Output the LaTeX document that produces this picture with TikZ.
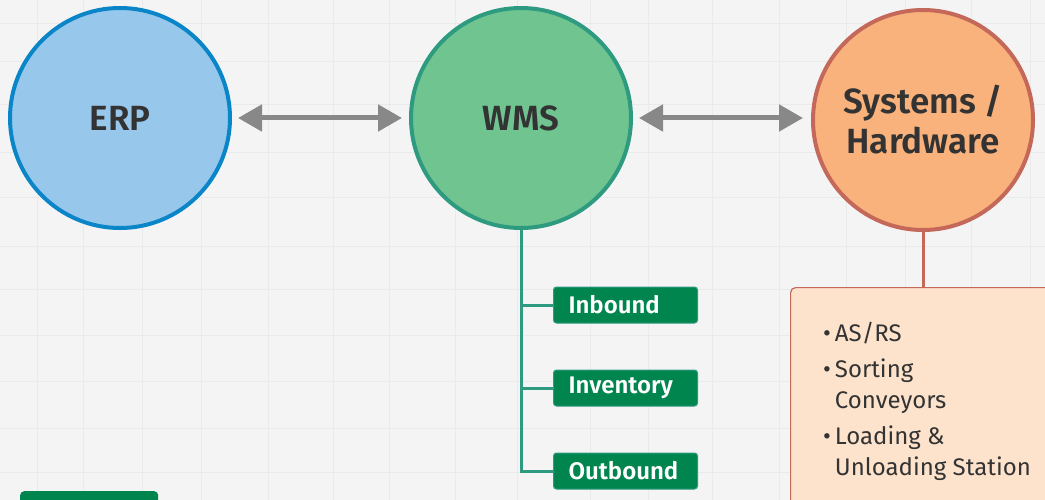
\documentclass[tikz,border=0pt]{standalone}
\usepackage{fontspec}
\setmainfont{Fira Sans}[BoldFont={Fira Sans SemiBold}]
\usetikzlibrary{arrows.meta}
\definecolor{bgc}{HTML}{F4F4F4}
\definecolor{gridc}{HTML}{EAEAEA}
\definecolor{erpfill}{HTML}{97C8EC}
\definecolor{erpline}{HTML}{0A86C8}
\definecolor{wmsfill}{HTML}{6FC490}
\definecolor{wmsline}{HTML}{2E9A80}
\definecolor{sysfill}{HTML}{F9B27C}
\definecolor{sysline}{HTML}{C4695A}
\definecolor{arrowc}{HTML}{888888}
\definecolor{tagfill}{HTML}{00854F}
\definecolor{tagline}{HTML}{2E9A80}
\definecolor{hwfill}{HTML}{FDE3CC}
\definecolor{txt}{HTML}{333333}
\tikzset{
  bigcircle/.style={circle, minimum size=220pt, line width=4pt, inner sep=0pt,
    font=\fontsize{35}{41}\selectfont\bfseries, text=txt, align=center},
  link/.style={line width=5pt, arrowc, {Triangle[length=24pt,width=26pt]}-{Triangle[length=24pt,width=26pt]}},
  tag/.style={rectangle, rounded corners=3pt, fill=tagfill, draw=tagline, line width=1pt,
    minimum width=144pt, minimum height=36pt, anchor=west, text=white,
    font=\fontsize{24}{27}\selectfont\bfseries, align=left, text width=114pt, inner xsep=15pt},
  branch/.style={line width=3pt, wmsline},
  hwline/.style={line width=3pt, sysline},
}
\begin{document}
\begin{tikzpicture}[x=1pt,y=-1pt]
\fill[bgc] (0,0) rectangle (1045,500);
\useasboundingbox (0,0) rectangle (1045,500);
\foreach \x in {37,83,142,201,268,333,389,455,517,590,648,712,779,846,905,971,1030}
  \draw[gridc, line width=0.6pt] (\x,0) -- (\x,500);
\foreach \y in {23,61,104,152,197,246,289,335,381,428,472}
  \draw[gridc, line width=0.6pt] (0,\y) -- (1045,\y);

\node[bigcircle, fill=erpfill, draw=erpline] (erp) at (120,118) {ERP};
\node[bigcircle, fill=wmsfill, draw=wmsline] (wms) at (521,118) {WMS};
\node[bigcircle, fill=sysfill, draw=sysline] (sys) at (923,120) {Systems /\\[-1pt]Hardware};

\coordinate (a1) at (238,118);
\coordinate (a2) at (402,118);
\coordinate (b1) at (639,118);
\coordinate (b2) at (803,118);
\draw[link] (a1) -- (a2);
\draw[link] (b1) -- (b2);

\node[tag] (inb) at (553,305) {Inbound};
\node[tag] (inv) at (553,388) {Inventory};
\node[tag] (outb) at (553,471) {Outbound};
\draw[branch] (wms.south) -- (wms.south |- outb.west) -- (outb.west);
\draw[branch] (wms.south |- inb.west) -- (inb.west);
\draw[branch] (wms.south |- inv.west) -- (inv.west);

\node[rectangle, rounded corners=5pt, fill=hwfill, draw=sysline, line width=1.2pt,
  anchor=north west, minimum width=270pt, minimum height=222pt] (hw) at (790,287) {};
\draw[hwline] (sys.south) -- (sys.south |- hw.north);
\node[anchor=north west, text=txt, font=\fontsize{24}{31}\selectfont, align=left, inner sep=0pt] (hwtext) at (823,322)
 {\textbullet\,AS/RS\\[5pt]
  \textbullet\,Sorting\\
  \hphantom{\textbullet\,}Conveyors\\[5pt]
  \textbullet\,Loading \&\\
  \hphantom{\textbullet\,}Unloading Station};

\node[rectangle, rounded corners=4pt, fill=tagfill, anchor=north west,
  minimum width=138pt, minimum height=30pt] (adv) at (20,491) {};
\end{tikzpicture}
\end{document}
